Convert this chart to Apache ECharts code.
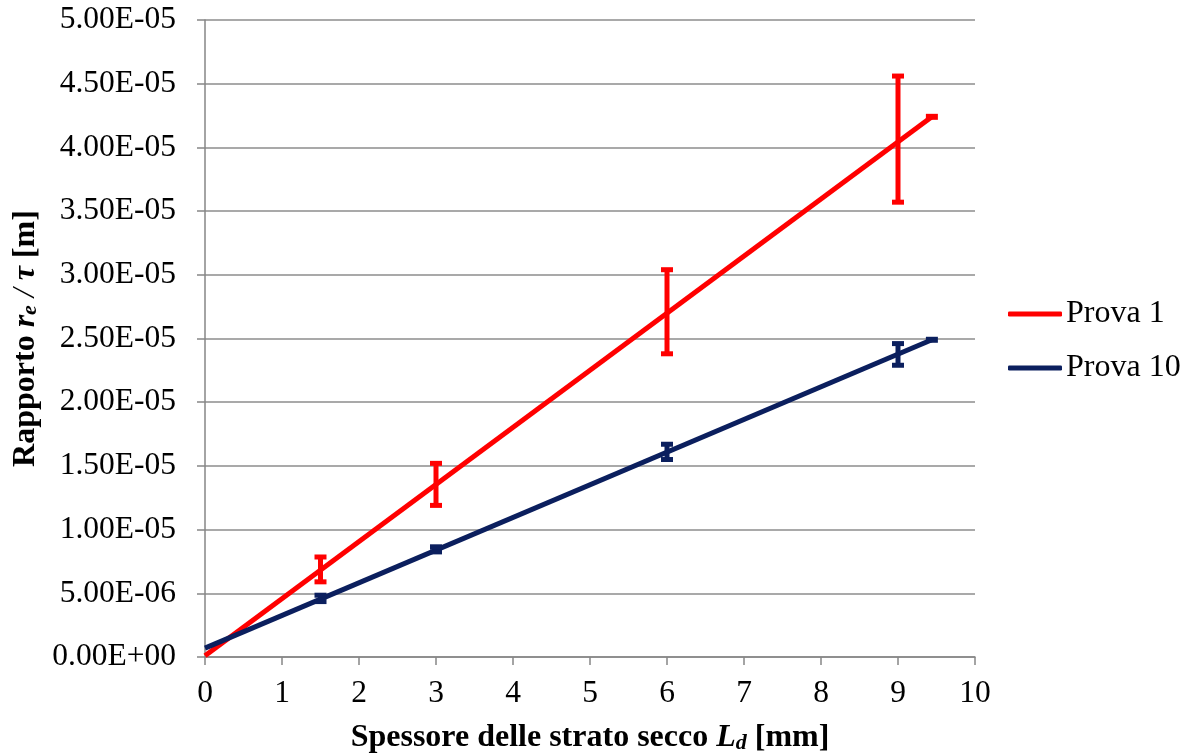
<!DOCTYPE html>
<html>
<head>
<meta charset="utf-8">
<script src="https://cdn.jsdelivr.net/npm/echarts@6/dist/echarts.min.js"></script>
<style>
  html, body { margin: 0; padding: 0; background: #fff; }
  #chart { width: 1190px; height: 755px; }
</style>
</head>
<body>
<div id="chart"></div>
<script>
// error bar points: x [mm], low / high [m]
const pointsX = [1.5, 3, 6, 9]
const prova1Low = [5.9e-6, 11.9e-6, 23.8e-6, 35.7e-6]
const prova1High = [7.85e-6, 15.2e-6, 30.4e-6, 45.6e-6]
const prova10Low = [4.35e-6, 8.25e-6, 15.5e-6, 22.9e-6]
const prova10High = [4.85e-6, 8.65e-6, 16.7e-6, 24.6e-6]

// trend lines (start / end)
const lineX = [0, 9.44]
const prova1Line = [0.1e-6, 42.4e-6]
const prova10Line = [0.7e-6, 24.9e-6]

const RED = '#ff0000'
const NAVY = '#0b1f5e'
const FONT = '"Liberation Serif", "DejaVu Serif", serif'

function sciLabel(v) {
  if (v === 0) return '0.00E+00'
  const exp = Math.floor(Math.log10(Math.abs(v)) + 1e-9)
  const mant = v / Math.pow(10, exp)
  const sign = exp < 0 ? '-' : '+'
  const e = String(Math.abs(exp)).padStart(2, '0')
  return mant.toFixed(2) + 'E' + sign + e
}

function lineData(ys) {
  return lineX.map((x, i) => {
    if (i === lineX.length - 1) {
      return { value: [x, ys[i]], symbol: 'rect', symbolSize: [12, 6] }
    }
    return { value: [x, ys[i]], symbol: 'none' }
  })
}

function errorData(low, high) {
  return pointsX.map((x, i) => [x, low[i], high[i]])
}

function errorBar(color) {
  return function (params, api) {
    const top = api.coord([api.value(0), api.value(2)])
    const bot = api.coord([api.value(0), api.value(1)])
    const half = 6
    const style = { stroke: color, lineWidth: 5 }
    return {
      type: 'group',
      children: [
        { type: 'line', shape: { x1: top[0], y1: top[1], x2: bot[0], y2: bot[1] }, style },
        { type: 'line', shape: { x1: top[0] - half, y1: top[1], x2: top[0] + half, y2: top[1] }, style },
        { type: 'line', shape: { x1: bot[0] - half, y1: bot[1], x2: bot[0] + half, y2: bot[1] }, style }
      ]
    }
  }
}

const titleRich = {
  b: { fontFamily: FONT, fontSize: 32, fontWeight: 'bold', color: '#000' },
  bi: { fontFamily: FONT, fontSize: 32, fontWeight: 'bold', fontStyle: 'italic', color: '#000' },
  sl: { fontFamily: FONT, fontSize: 32, fontStyle: 'italic', color: '#000' },
  sub: { fontFamily: FONT, fontSize: 22, fontWeight: 'bold', fontStyle: 'italic', color: '#000', padding: [10, 0, 0, 0] }
}

const chart = echarts.init(document.getElementById('chart'))

const option = {
  backgroundColor: '#fff',
  animation: false,
  textStyle: { fontFamily: FONT },
  grid: { left: 205, right: 215, top: 20, bottom: 98, outerBoundsMode: 'none', containLabel: false },
  legend: {
    orient: 'vertical',
    left: 1008,
    top: 298,
    padding: 0,
    icon: 'roundRect',
    itemWidth: 54,
    itemHeight: 5,
    itemGap: 22,
    data: ['Prova 1', 'Prova 10'],
    textStyle: { fontFamily: FONT, fontSize: 32, color: '#000', padding: [0, 0, 0, -1] }
  },
  xAxis: {
    type: 'value',
    min: 0,
    max: 10,
    interval: 1,
    name: '{b|Spessore delle strato secco }{bi|L}{sub|d}{b| [mm]}',
    nameLocation: 'middle',
    nameGap: 65,
    nameTextStyle: { rich: titleRich },
    axisLine: { lineStyle: { color: '#868686', width: 1.5 } },
    axisTick: { show: true, length: 8, lineStyle: { color: '#868686', width: 1.5 } },
    axisLabel: { color: '#000', fontFamily: FONT, fontSize: 31.5, margin: 21 },
    splitLine: { show: false }
  },
  yAxis: {
    type: 'value',
    min: 0,
    max: 5e-5,
    interval: 5e-6,
    name: '{b|Rapporto }{bi|r}{sub|e}{sl| / }{bi|τ}{b| [m]}',
    nameLocation: 'middle',
    nameGap: 159,
    nameRotate: 90,
    nameTextStyle: { rich: titleRich },
    axisLine: { show: true, lineStyle: { color: '#868686', width: 1.5 } },
    axisTick: { show: true, length: 8, lineStyle: { color: '#868686', width: 1.5 } },
    axisLabel: { color: '#000', fontFamily: FONT, fontSize: 31.5, margin: 29, formatter: sciLabel },
    splitLine: { lineStyle: { color: '#8c8c8c', width: 1.5 } }
  },
  series: [
    {
      name: 'Prova 1',
      type: 'line',
      data: lineData(prova1Line),
      lineStyle: { color: RED, width: 5 },
      itemStyle: { color: RED },
      z: 3
    },
    {
      name: 'Prova 10',
      type: 'line',
      data: lineData(prova10Line),
      lineStyle: { color: NAVY, width: 5 },
      itemStyle: { color: NAVY },
      z: 3
    },
    {
      name: 'err1',
      type: 'custom',
      renderItem: errorBar(RED),
      data: errorData(prova1Low, prova1High),
      encode: { x: 0, y: [1, 2] },
      z: 4
    },
    {
      name: 'err10',
      type: 'custom',
      renderItem: errorBar(NAVY),
      data: errorData(prova10Low, prova10High),
      encode: { x: 0, y: [1, 2] },
      z: 4
    }
  ]
}

chart.setOption(option)
</script>
</body>
</html>
